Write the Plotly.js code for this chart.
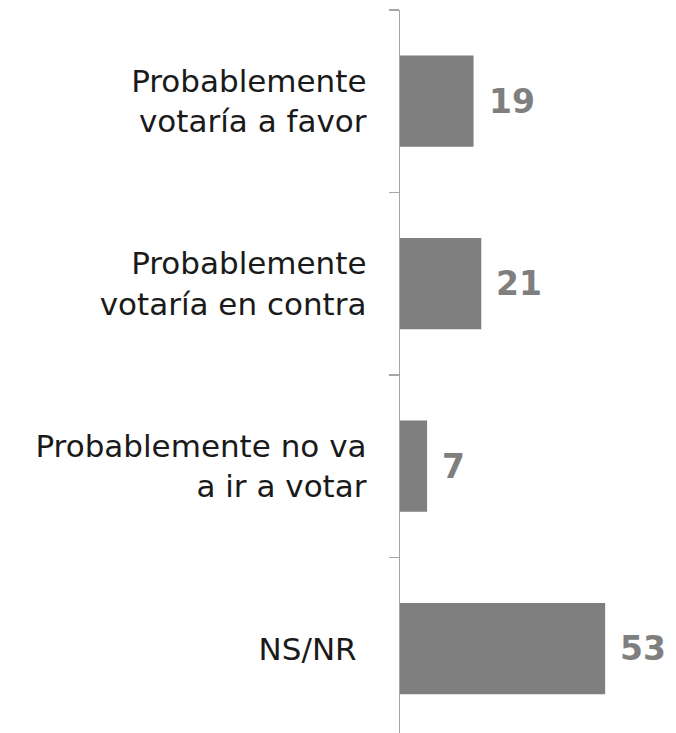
<!DOCTYPE html>
<html>
<head>
<meta charset="utf-8">
<script src="https://cdn.plot.ly/plotly-3.0.1.min.js"></script>
<style>
html,body{margin:0;padding:0;overflow:hidden;background:#fff;}
#chart{width:676px;height:733px;}
</style>
</head>
<body>
<div id="chart"></div>
<script>
const categories = [
  "Probablemente<br>votaría a favor",
  "Probablemente<br>votaría en contra",
  "Probablemente no va<br>a ir a votar",
  "NS/NR\u00a0"
];
const values = [19, 21, 7, 53];
const valueLabels = ["19", "21", "7", "53"];

const barColor = "#7f7f7f";
const labelFont = "DejaVu Sans, sans-serif";

const trace = {
  type: "bar",
  orientation: "h",
  x: values,
  y: categories,
  width: 0.5,
  marker: {color: barColor},
  hoverinfo: "none"
};

const annotations = values.map((v, i) => ({
  x: v,
  y: categories[i],
  xref: "x",
  yref: "y",
  text: "<b>" + valueLabels[i] + "</b>",
  showarrow: false,
  xanchor: "left",
  yanchor: "middle",
  xshift: 13,
  font: {family: labelFont, size: 33, color: "#7f7f7f"}
}));

const layout = {
  width: 676,
  height: 733,
  margin: {l: 400, r: 0, t: 10, b: 0, pad: 0},
  paper_bgcolor: "#ffffff",
  plot_bgcolor: "#ffffff",
  showlegend: false,
  bargap: 0.5,
  xaxis: {
    range: [0, 71.3],
    visible: false,
    showgrid: false,
    zeroline: false,
    fixedrange: true
  },
  yaxis: {
    type: "category",
    categoryorder: "array",
    categoryarray: categories,
    range: [3.462, -0.5],
    showline: true,
    linecolor: "#a6a6a6",
    linewidth: 1.3,
    ticks: "outside",
    tickson: "boundaries",
    ticklen: 10,
    tickwidth: 1.3,
    tickcolor: "#a6a6a6",
    ticklabelstandoff: 26,
    showgrid: false,
    zeroline: false,
    tickfont: {family: labelFont, size: 31, color: "#1a1a1a"},
    fixedrange: true
  },
  annotations: annotations
};

Plotly.newPlot("chart", [trace], layout, {displayModeBar: false, staticPlot: true});
</script>
</body>
</html>
